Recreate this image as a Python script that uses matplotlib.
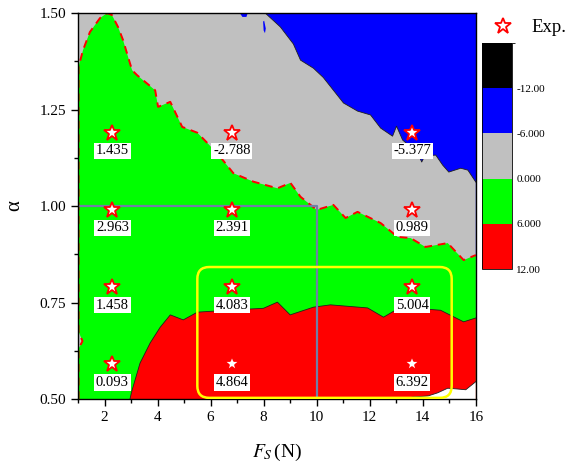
import numpy as np
import matplotlib as mpl
import matplotlib.pyplot as plt
from matplotlib.colors import ListedColormap, BoundaryNorm
from matplotlib.lines import Line2D
from matplotlib.patches import FancyBboxPatch

plt.rcParams['font.family'] = ['Liberation Serif', 'DejaVu Serif']
plt.rcParams['mathtext.fontset'] = 'stix'

# contour levels (top cell of the scale = everything below -12)
levels = [-18, -12, -6, 0, 6, 12]
level_labels = ['-12.00', '-6.000', '0.000', '6.000', '12.00']
level_colors = ['#000000', '#0000ff', '#c0c0c0', '#00ff00', '#ff0000']

# iso-lines of the map, (F_s, alpha)
fs_neg6 = [8.06, 8.63, 9.12, 9.39, 9.88, 10.25, 10.63, 11.01, 11.54, 12.03,
           12.41, 12.86, 13.01, 13.24, 13.81, 13.96, 14.07, 14.49, 14.75,
           14.98, 15.43, 15.70, 16.0]
alpha_neg6 = [1.50, 1.464, 1.42, 1.378, 1.357, 1.333, 1.30, 1.267, 1.246, 1.236,
              1.202, 1.181, 1.207, 1.171, 1.137, 1.114, 1.130, 1.132, 1.106,
              1.088, 1.098, 1.093, 1.062]

fs_zero = [1.02, 1.02, 1.17, 1.02, 1.02, 1.19, 1.45, 1.83, 2.10, 2.28, 2.51,
           2.70, 2.89, 3.04, 3.23, 3.91, 4.02, 4.48, 4.93, 5.50, 6.25, 6.86,
           7.62, 8.52, 9.01, 9.39, 10.0, 10.63, 11.09, 11.54, 12.41, 13.05,
           13.54, 14.1, 14.94, 15.54, 16.0]
alpha_zero = [0.50, 0.63, 0.65, 0.675, 1.36, 1.404, 1.451, 1.487, 1.50, 1.495,
              1.464, 1.43, 1.386, 1.352, 1.339, 1.30, 1.257, 1.27, 1.205, 1.19,
              1.137, 1.085, 1.063, 1.046, 1.06, 1.024, 0.99, 1.003, 0.969,
              0.985, 0.956, 0.92, 0.917, 0.894, 0.904, 0.86, 0.873]

fs_six = [2.96, 3.04, 3.34, 3.72, 4.10, 4.48, 4.97, 5.50, 6.63, 7.99, 8.52,
          9.00, 9.88, 10.52, 11.92, 12.52, 13.16, 14.67, 15.54, 16.0]
alpha_six = [0.50, 0.523, 0.593, 0.645, 0.686, 0.718, 0.705, 0.725, 0.730,
             0.735, 0.751, 0.718, 0.738, 0.744, 0.736, 0.712, 0.738, 0.730,
             0.700, 0.710]

fs_twelve = [13.3, 13.6, 14.2, 14.56, 14.94, 15.3, 15.62, 16.0]
alpha_twelve = [0.50, 0.505, 0.508, 0.516, 0.528, 0.526, 0.524, 0.545]

# small closed -6 islands near the top edge
fs_isl1 = [7.10, 7.20, 7.35, 7.40]
alpha_isl1 = [1.50, 1.49, 1.49, 1.50]
fs_isl2 = [7.98, 8.02, 8.08, 8.05, 8.00]
alpha_isl2 = [1.478, 1.480, 1.460, 1.448, 1.455]

# experimental points
fs_exp = [2.3, 6.8, 13.6]
alpha_exp = [1.19, 0.99, 0.79, 0.59]
val_exp = [[1.435, -2.788, -5.377],
           [2.963, 2.391, 0.989],
           [1.458, 4.083, 5.004],
           [0.093, 4.864, 6.392]]

# operating point and window of interest
fs_op, alpha_op = 10.0, 1.0
fs_win = [5.5, 15.09]
alpha_win = [0.503, 0.842]

fig = plt.figure(figsize=(5.7, 4.65), dpi=100)
ax = fig.add_axes([0.1368, 0.1419, 0.698, 0.830])
x0, x1, y0, y1 = 1, 16, 0.5, 1.5

# filled bands, stacked from the most negative level down
ax.set_facecolor(level_colors[1])
ax.fill([x0] + fs_neg6 + [x1, x0], [y1] + alpha_neg6 + [y0, y0],
        color=level_colors[2], lw=0)
ax.fill(fs_isl1, alpha_isl1, color=level_colors[1], lw=0)
ax.fill(fs_isl2, alpha_isl2, color=level_colors[1], lw=0)
ax.fill(fs_zero + [x1], alpha_zero + [y0], color=level_colors[3], lw=0)
ax.fill(fs_six + [x1], alpha_six + [y0], color=level_colors[4], lw=0)
ax.fill(fs_twelve + [x1], alpha_twelve + [y0], color='white', lw=0)

ax.plot(fs_neg6, alpha_neg6, color='#202020', lw=0.6)
ax.plot(fs_six, alpha_six, color='#202020', lw=0.6)
ax.plot(fs_twelve, alpha_twelve, color='#202020', lw=0.6)
ax.plot(fs_zero, alpha_zero, color='red', lw=1.4, dashes=(4, 3))

# operating point guide lines
ax.plot([x0, fs_op, fs_op], [alpha_op, alpha_op, y0], color='#6f7fa6', lw=1.6)

win = FancyBboxPatch((fs_win[0], alpha_win[0]), fs_win[1] - fs_win[0],
                     alpha_win[1] - alpha_win[0],
                     boxstyle='round,pad=0,rounding_size=0.45',
                     mutation_aspect=0.0686, fill=False,
                     ec='#ffff00', lw=1.8, zorder=4)
ax.add_patch(win)

for i, a in enumerate(alpha_exp):
    for j, f in enumerate(fs_exp):
        ax.plot(f, a, marker='*', ms=12, mfc='white', mec='red', mew=1.3,
                ls='none', zorder=5)
        ax.annotate('{:.3f}'.format(val_exp[i][j]), (f, a), xytext=(0, -13),
                    textcoords='offset points', ha='center', va='center',
                    fontsize=10.5, zorder=6,
                    bbox=dict(boxstyle='square,pad=0.12', fc='white', ec='none'))

ax.set_xlim(x0, x1)
ax.set_ylim(y0, y1)
ax.set_xticks(np.arange(2, 17, 2))
ax.set_xticks(np.arange(1, 16, 2), minor=True)
ax.set_yticks(np.arange(0.5, 1.51, 0.25))
ax.set_yticks(np.arange(0.625, 1.5, 0.25), minor=True)
ax.yaxis.set_major_formatter(mpl.ticker.FormatStrFormatter('%.2f'))
ax.tick_params(which='both', direction='out', labelsize=11, top=False, right=False)
ax.tick_params(which='major', length=5, width=1)
ax.tick_params(which='minor', length=3, width=1)
for s in ax.spines.values():
    s.set_linewidth(1.0)

ax.set_xlabel('$F_S\\,$(N)', fontsize=14)
ax.xaxis.set_label_coords(0.5, -0.11)
ax.set_ylabel('α', fontsize=15)
ax.yaxis.set_label_coords(-0.135, 0.5)

# colour scale
cax = fig.add_axes([0.8456, 0.4215, 0.0526, 0.486])
cmap = ListedColormap(level_colors)
norm = BoundaryNorm(levels, cmap.N)
cb = fig.colorbar(mpl.cm.ScalarMappable(norm=norm, cmap=cmap), cax=cax,
                  ticks=levels[1:])
cax.invert_yaxis()
cb.set_ticklabels(level_labels)
cax.tick_params(length=0, labelsize=8, pad=3)
cb.outline.set_linewidth(0.6)

exp_handle = Line2D([], [], marker='*', ls='none', ms=12, mfc='white',
                    mec='red', mew=1.3)
fig.legend(handles=[exp_handle], labels=['Exp.'], loc='center left',
           bbox_to_anchor=(0.866, 0.940), frameon=False, fontsize=13.5,
           handletextpad=1.0, handlelength=1.0, borderpad=0, borderaxespad=0)

fig.savefig('out.png', dpi=100)
